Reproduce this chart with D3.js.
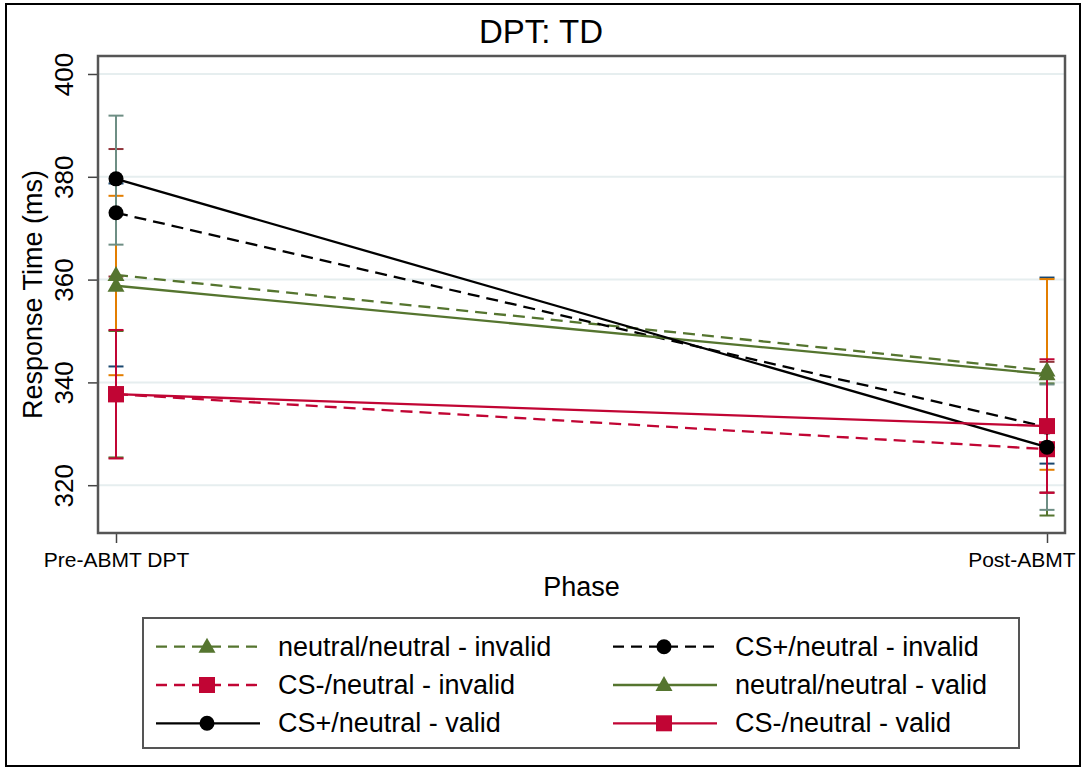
<!DOCTYPE html>
<html>
<head>
<meta charset="utf-8">
<script src="https://cdn.jsdelivr.net/npm/d3@7"></script>
<style>
  body { margin: 0; background: #fff; }
  svg { display: block; font-family: "Liberation Sans", Arial, Helvetica, sans-serif; }
</style>
</head>
<body>
<svg id="chart" width="1084" height="769"></svg>
<script>
// phases on the x axis
const phases = ["Pre-ABMT DPT", "Post-ABMT"];
const yTicks = [320, 340, 360, 380, 400];

// series, in legend order
const seriesNames = [
  "neutral/neutral - invalid",
  "CS+/neutral - invalid",
  "CS-/neutral - invalid",
  "neutral/neutral - valid",
  "CS+/neutral - valid",
  "CS-/neutral - valid"
];
const means = [
  [360.9, 342.3],
  [373.0, 331.3],
  [337.7, 327.0],
  [358.8, 341.6],
  [379.6, 327.4],
  [337.7, 331.5]
];
const ciLow = [
  [343.1, 324.2],
  [360.6, 318.6],
  [325.4, 314.1],
  [341.4, 323.0],
  [366.8, 315.2],
  [325.2, 318.5]
];
const ciHigh = [
  [378.7, 360.4],
  [385.4, 344.0],
  [350.0, 339.8],
  [376.3, 360.1],
  [391.9, 339.6],
  [350.2, 344.5]
];

// styles
const lineColors = ["#55752f", "#000000", "#c10534", "#55752f", "#000000", "#c10534"];
const capColors = ["#1a476f", "#90353b", "#55752f", "#e37e00", "#6e8e84", "#c10534"];
const shapes = ["triangle", "circle", "square", "triangle", "circle", "square"];
const dashed = [true, true, true, false, false, false];

const svg = d3.select("#chart");

// outer frame
svg.append("rect")
  .attr("x", 6).attr("y", 4)
  .attr("width", 1074).attr("height", 762)
  .attr("fill", "#fff")
  .attr("stroke", "#000")
  .attr("stroke-width", 2);

const plot = { left: 98, right: 1065, top: 56, bottom: 533 };

const x = d3.scalePoint()
  .domain(phases)
  .range([116, 1047]);

const y = d3.scaleLinear()
  .domain([310.7, 403.5])
  .range([plot.bottom, plot.top]);

// gridlines
svg.append("g")
  .selectAll("line")
  .data(yTicks)
  .enter()
  .append("line")
  .attr("x1", plot.left).attr("x2", plot.right)
  .attr("y1", d => y(d)).attr("y2", d => y(d))
  .attr("stroke", "#e6eeef")
  .attr("stroke-width", 2);

// y axis
const yAxis = svg.append("g")
  .attr("transform", `translate(${plot.left},0)`)
  .call(d3.axisLeft(y).tickValues(yTicks).tickSize(10).tickFormat(d3.format("d")));
yAxis.select(".domain").remove();
yAxis.selectAll(".tick line").attr("stroke", "#444").attr("stroke-width", 1.5);
yAxis.selectAll(".tick text")
  .attr("x", null).attr("dy", null)
  .attr("text-anchor", "middle")
  .attr("transform", "translate(-25,0) rotate(-90)")
  .attr("font-size", 26)
  .attr("fill", "#000");

// x axis
const xAxis = svg.append("g")
  .attr("transform", `translate(0,${plot.bottom})`)
  .call(d3.axisBottom(x).tickSize(10).tickPadding(8));
xAxis.select(".domain").remove();
xAxis.selectAll(".tick line").attr("stroke", "#444").attr("stroke-width", 1.5);
xAxis.selectAll(".tick text")
  .attr("font-size", 21)
  .attr("fill", "#000")
  .attr("dy", null)
  .attr("y", 34)
  .attr("text-anchor", (d, i) => i === 0 ? "middle" : "end")
  .attr("x", (d, i) => i === 0 ? 0 : 28);

// plot frame
svg.append("rect")
  .attr("x", plot.left).attr("y", plot.top)
  .attr("width", plot.right - plot.left)
  .attr("height", plot.bottom - plot.top)
  .attr("fill", "none")
  .attr("stroke", "#555")
  .attr("stroke-width", 2.5);

// error bars
const capW = 7.5;
seriesNames.forEach((name, s) => {
  const g = svg.append("g").attr("stroke", capColors[s]).attr("stroke-width", 2);
  phases.forEach((p, i) => {
    const cx = x(p);
    g.append("line")
      .attr("x1", cx).attr("x2", cx)
      .attr("y1", y(ciLow[s][i])).attr("y2", y(ciHigh[s][i]));
    [ciLow[s][i], ciHigh[s][i]].forEach(v => {
      g.append("line")
        .attr("x1", cx - capW).attr("x2", cx + capW)
        .attr("y1", y(v)).attr("y2", y(v));
    });
  });
});

// marker helper
function marker(sel, shape, color) {
  if (shape === "circle") {
    sel.append("circle").attr("r", 7.5).attr("fill", color);
  } else if (shape === "square") {
    sel.append("rect").attr("x", -8).attr("y", -8)
      .attr("width", 16).attr("height", 16).attr("fill", color);
  } else {
    sel.append("path").attr("d", "M0,-9 L8.5,6 L-8.5,6 Z").attr("fill", color);
  }
}

const line = d3.line()
  .x((d, i) => x(phases[i]))
  .y(d => y(d));

// lines and markers
seriesNames.forEach((name, s) => {
  svg.append("path")
    .datum(means[s])
    .attr("d", line)
    .attr("fill", "none")
    .attr("stroke", lineColors[s])
    .attr("stroke-width", 2.3)
    .attr("stroke-dasharray", dashed[s] ? "12,7" : null);
  means[s].forEach((v, i) => {
    const m = svg.append("g").attr("transform", `translate(${x(phases[i])},${y(v)})`);
    marker(m, shapes[s], lineColors[s]);
  });
});

// titles
svg.append("text")
  .attr("x", 541).attr("y", 43)
  .attr("text-anchor", "middle")
  .attr("font-size", 33)
  .text("DPT: TD");

svg.append("text")
  .attr("x", (plot.left + plot.right) / 2).attr("y", 596)
  .attr("text-anchor", "middle")
  .attr("font-size", 27)
  .text("Phase");

svg.append("text")
  .attr("transform", `translate(42,${(plot.top + plot.bottom) / 2}) rotate(-90)`)
  .attr("text-anchor", "middle")
  .attr("font-size", 27)
  .text("Response Time (ms)");

// legend
const legend = svg.append("g");
legend.append("rect")
  .attr("x", 143).attr("y", 618)
  .attr("width", 876).attr("height", 130)
  .attr("fill", "#fff")
  .attr("stroke", "#555")
  .attr("stroke-width", 2);

const colX = [156, 613];
const rowY = [646.7, 685, 723.3];
seriesNames.forEach((name, s) => {
  const col = s % 2;
  const row = Math.floor(s / 2);
  const x0 = colX[col];
  const cy = rowY[row];
  const item = legend.append("g");
  item.append("line")
    .attr("x1", x0).attr("x2", x0 + 104)
    .attr("y1", cy).attr("y2", cy)
    .attr("stroke", lineColors[s])
    .attr("stroke-width", 2.3)
    .attr("stroke-dasharray", dashed[s] ? "11,7" : null);
  const m = item.append("g").attr("transform", `translate(${x0 + 51},${cy})`);
  marker(m, shapes[s], lineColors[s]);
  item.append("text")
    .attr("x", x0 + 122).attr("y", cy + 9)
    .attr("font-size", 27)
    .text(name);
});
</script>
</body>
</html>
